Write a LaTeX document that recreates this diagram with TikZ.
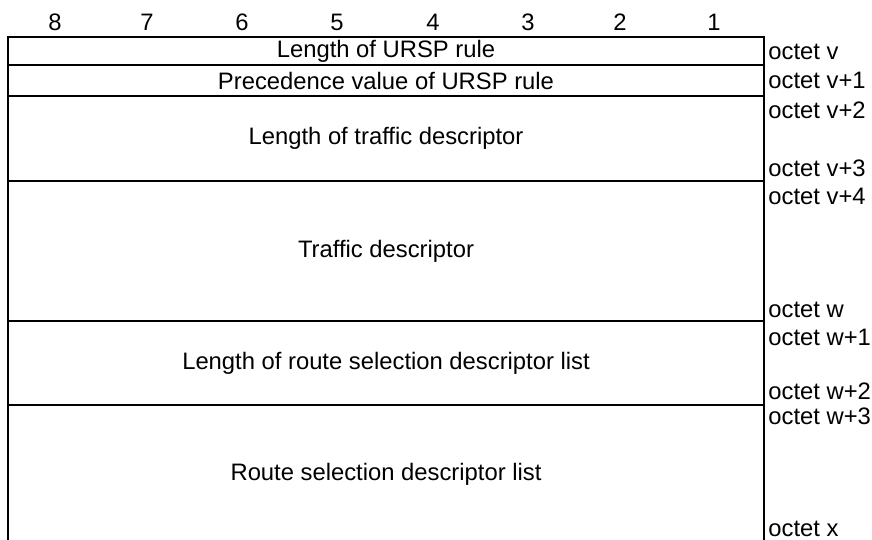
\documentclass[tikz,border=0pt]{standalone}
\usepackage{fontspec}
\setmainfont{Liberation Sans}
\begin{document}
\begin{tikzpicture}[x=0.5pt,y=-0.5pt,font=\fontsize{11.9}{14}\selectfont,
  frame/.style={line width=1.3pt},
  field/.style={inner sep=0pt},
  octet/.style={inner sep=0pt,anchor=west}]
\useasboundingbox (0,0) rectangle (872,540);

% bit numbers
\node (b8) at (55,22) {8};
\node (b7) at (147,22) {7};
\node (b6) at (242,22) {6};
\node (b5) at (337,22) {5};
\node (b4) at (433,22) {4};
\node (b3) at (528,22) {3};
\node (b2) at (620,22) {2};
\node (b1) at (714,22) {1};

% frame
\draw [frame] (8,540) -- (8,37) -- (764,37) -- (764,540);
\draw [frame] (8,65) -- (764,65);
\draw [frame] (8,96) -- (764,96);
\draw [frame] (8,181) -- (764,181);
\draw [frame] (8,321) -- (764,321);
\draw [frame] (8,405) -- (764,405);

% fields
\node [field] (urspLen) at (386,51) {Length of URSP rule};
\node [field] (urspPrec) at (386,80.5) {Precedence value of URSP rule};
\node [field] (tdLen) at (386,138.5) {Length of traffic descriptor};
\node [field] (td) at (386,251) {Traffic descriptor};
\node [field] (rsdLen) at (386,363) {Length of route selection descriptor list};
\node [field] (rsd) at (386,474) {Route selection descriptor list};

% octets
\node [octet] (oV) at (768,52) {octet v};
\node [octet] (oV1) at (768,80) {octet v+1};
\node [octet] (oV2) at (768,110) {octet v+2};
\node [octet] (oV3) at (768,168) {octet v+3};
\node [octet] (oV4) at (768,196) {octet v+4};
\node [octet] (oW) at (768,310) {octet w};
\node [octet] (oW1) at (768,337) {octet w+1};
\node [octet] (oW2) at (768,391) {octet w+2};
\node [octet] (oW3) at (768,416) {octet w+3};
\node [octet] (oX) at (768,529) {octet x};
\end{tikzpicture}
\end{document}
